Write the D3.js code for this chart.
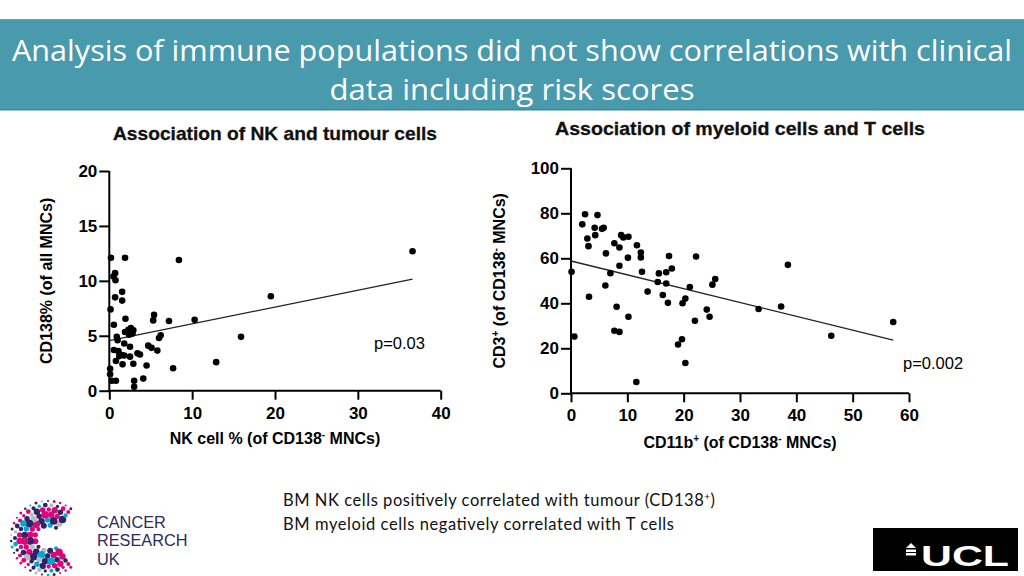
<!DOCTYPE html>
<html>
<head>
<meta charset="utf-8">
<script src="https://cdn.jsdelivr.net/npm/d3@7"></script>
<style>
  html, body { margin: 0; padding: 0; background: #ffffff; }
  svg { display: block; }
</style>
</head>
<body>
<svg id="chart" width="1024" height="576"></svg>
<script>
// ---------------- DATA ----------------
const slideTitleLines = [
  "Analysis of immune populations did not show correlations with clinical",
  "data including risk scores"
];

// Left panel: NK cell % (x) vs CD138% (y)
const nkTitle = "Association of NK and tumour cells";
const nkCellPct = [0.2, 1.9, 8.4, 36.6, 0.7, 0.5, 0.75, 1.55, 1.55, 0.7, 0.15, 19.5,
  5.4, 5.3, 7.2, 10.3, 0.55, 1.95, 1.9, 2.3, 2.6, 2.9, 2.8, 2.4,
  0.9, 1.0, 6.2, 6.0, 15.9, 1.8, 2.5, 0.55, 4.7, 5.1, 5.8, 1.1,
  1.5, 1.2, 1.8, 2.5, 3.4, 3.7, 0.8, 1.6, 2.9, 4.5, 7.7, 12.9,
  0.1, 0.1, 4.1, 3.0, 3.0, 0.3, 0.8];
const cd138Pct = [12.1, 12.1, 11.9, 12.7, 10.7, 10.4, 10.05, 9.0, 8.2, 8.5, 7.4, 8.6,
  6.9, 6.4, 6.35, 6.45, 6.0, 6.55, 5.35, 5.55, 5.7, 5.5, 5.2, 5.1,
  4.9, 4.6, 5.05, 4.8, 4.9, 4.3, 4.0, 3.7, 4.1, 3.9, 3.65, 3.6,
  3.25, 3.15, 3.2, 3.1, 3.4, 3.3, 2.7, 2.4, 2.45, 2.3, 2.05, 2.6,
  2.0, 1.5, 1.1, 0.9, 0.35, 0.9, 0.9];
const nkXTicks = [0, 10, 20, 30, 40];
const nkYTicks = [0, 5, 10, 15, 20];
const nkFit = { x0: 0, x1: 36.6, intercept: 4.55, slope: 0.153 };
const nkP = "p=0.03";

// Right panel: CD11b+ (x) vs CD3+ (y)
const myTitle = "Association of myeloid cells and T cells";
const cd11bPct = [0.1, 0.6, 2.5, 4.7, 2.0, 4.2, 5.5, 5.8, 2.9, 4.3, 3.1, 8.9, 9.3, 10.2,
  7.7, 8.6, 11.7, 6.2, 12.4, 12.4, 10.1, 17.4, 8.6, 7.0, 12.6, 15.6, 16.9, 17.9,
  15.4, 16.9, 6.1, 13.6, 3.2, 16.3, 17.2, 8.1, 10.2, 7.7, 8.6, 11.6, 19.8, 20.3,
  19.0, 19.7, 20.3, 21.1, 22.2, 22.0, 24.1, 24.6, 25.1, 25.6, 33.3, 37.3, 38.5,
  46.2, 57.2];
const cd3Pct = [54.0, 25.2, 79.6, 79.2, 75.1, 73.6, 73.1, 73.6, 68.8, 70.3, 65.4, 70.3, 69.3, 69.6,
  66.7, 64.8, 65.8, 62.2, 62.6, 60.4, 60.3, 61.0, 56.7, 53.4, 54.0, 53.3, 53.8, 55.5,
  49.5, 48.8, 47.9, 45.2, 42.9, 43.7, 40.2, 38.5, 34.0, 27.8, 27.3, 5.0, 40.0, 42.1,
  21.7, 24.0, 13.5, 47.2, 60.8, 32.2, 37.2, 34.0, 48.3, 50.8, 37.5, 38.6, 57.1,
  25.6, 31.7];
const myXTicks = [0, 10, 20, 30, 40, 50, 60];
const myYTicks = [0, 20, 40, 60, 80, 100];
const myFit = { x0: 0, x1: 57.2, intercept: 58.8, slope: -0.614 };
const myP = "p=0.002";

const bullets = [
  { text: "BM NK cells positively correlated with tumour (CD138", sup: "+", tail: ")" },
  { text: "BM myeloid cells negatively correlated with T cells", sup: "", tail: "" }
];
const cruLines = ["CANCER", "RESEARCH", "UK"];

// ---------------- DRAW ----------------
const svg = d3.select("#chart");
const FONT = "'Liberation Sans', Arial, sans-serif";

// Header band
svg.append("rect").attr("x", 0).attr("y", 19).attr("width", 1024).attr("height", 91)
  .attr("fill", "#4a9aae");
svg.append("rect").attr("x", 0).attr("y", 109).attr("width", 1024).attr("height", 1.5)
  .attr("fill", "#3f8799");
svg.append("rect").attr("x", 0).attr("y", 19).attr("width", 1024).attr("height", 1)
  .attr("fill", "#5aa5b7");

const titleG = svg.append("g").attr("font-family", "'Open Sans', 'Noto Sans', sans-serif")
  .attr("fill", "#ffffff").attr("font-size", 29);
titleG.append("text").attr("x", 512).attr("y", 61).attr("text-anchor", "middle")
  .attr("textLength", 1000).attr("lengthAdjust", "spacingAndGlyphs")
  .text(slideTitleLines[0]);
titleG.append("text").attr("x", 512).attr("y", 100).attr("text-anchor", "middle")
  .attr("textLength", 365).attr("lengthAdjust", "spacingAndGlyphs")
  .text(slideTitleLines[1]);

function panel(cfg) {
  const g = svg.append("g").attr("font-family", FONT);
  const x = d3.scaleLinear().domain(cfg.xDomain).range([cfg.left, cfg.right]);
  const y = d3.scaleLinear().domain(cfg.yDomain).range([cfg.bottom, cfg.top]);

  // title
  g.append("text").attr("x", cfg.titleX).attr("y", cfg.titleY)
    .attr("font-size", 18.5).attr("font-weight", "bold").attr("fill", "#111")
    .attr("stroke", "#111").attr("stroke-width", 0.3)
    .attr("textLength", cfg.titleW).attr("lengthAdjust", "spacingAndGlyphs")
    .text(cfg.title);

  const xAxis = d3.axisBottom(x).tickValues(cfg.xTicks).tickSize(9).tickSizeOuter(0)
    .tickPadding(7).tickFormat(d3.format("d"));
  const yAxis = d3.axisLeft(y).tickValues(cfg.yTicks).tickSize(10).tickSizeOuter(0)
    .tickPadding(2).tickFormat(d3.format("d"));

  const gx = g.append("g").attr("transform", `translate(0,${cfg.bottom})`).call(xAxis);
  const gy = g.append("g").attr("transform", `translate(${cfg.left},0)`).call(yAxis);
  [gx, gy].forEach(a => {
    a.selectAll("path.domain").attr("stroke", "#000").attr("stroke-width", 2);
    a.selectAll(".tick line").attr("stroke", "#000").attr("stroke-width", 2);
    a.selectAll(".tick text").attr("font-size", 17).attr("font-weight", "bold")
      .attr("fill", "#000").attr("font-family", FONT);
  });
  // extend domains to meet at origin
  gx.select("path.domain").attr("d", `M${cfg.left - 1},0H${cfg.right}`);
  gy.select("path.domain").attr("d", `M0,${cfg.bottom + 1}V${cfg.top}`);

  // regression line
  g.append("line")
    .attr("x1", x(cfg.fit.x0)).attr("y1", y(cfg.fit.intercept + cfg.fit.slope * cfg.fit.x0))
    .attr("x2", x(cfg.fit.x1)).attr("y2", y(cfg.fit.intercept + cfg.fit.slope * cfg.fit.x1))
    .attr("stroke", "#222").attr("stroke-width", 1.3);

  // points
  g.append("g").selectAll("circle").data(cfg.xs.map((v, i) => [v, cfg.ys[i]]))
    .join("circle")
    .attr("cx", d => x(d[0])).attr("cy", d => y(d[1])).attr("r", 3.3).attr("fill", "#000");

  // p-value
  g.append("text").attr("x", cfg.pX).attr("y", cfg.pY).attr("font-size", 16.5)
    .attr("fill", "#000").text(cfg.p);

  // x label
  const xl = g.append("text").attr("x", (cfg.left + cfg.right) / 2).attr("y", cfg.xLabelY)
    .attr("text-anchor", "middle").attr("font-size", 16).attr("font-weight", "bold").attr("fill", "#000");
  cfg.xLabel.forEach(p => {
    const t = xl.append("tspan").text(p.t);
    if (p.sup) t.attr("font-size", 10).attr("dy", -6);
    if (p.after) t.attr("dy", 6);
  });
  // y label
  const yl = g.append("text")
    .attr("transform", `translate(${cfg.yLabelX},${(cfg.top + cfg.bottom) / 2}) rotate(-90)`)
    .attr("text-anchor", "middle").attr("font-size", 16).attr("font-weight", "bold").attr("fill", "#000");
  cfg.yLabel.forEach(p => {
    const t = yl.append("tspan").text(p.t);
    if (p.sup) t.attr("font-size", 10).attr("dy", -6);
    if (p.after) t.attr("dy", 6);
  });
}

panel({
  title: nkTitle, titleX: 113, titleY: 140, titleW: 324,
  xDomain: [0, 40], yDomain: [0, 20],
  left: 109.3, right: 440.7, bottom: 390.7, top: 171,
  xTicks: nkXTicks, yTicks: nkYTicks,
  xs: nkCellPct, ys: cd138Pct, fit: nkFit,
  p: nkP, pX: 374, pY: 349,
  xLabelY: 443.5,
  xLabel: [{ t: "NK cell % (of CD138" }, { t: "-", sup: true }, { t: " MNCs)", after: true }],
  yLabelX: 52,
  yLabel: [{ t: "CD138% (of all MNCs)" }]
});

panel({
  title: myTitle, titleX: 555, titleY: 135, titleW: 370,
  xDomain: [0, 60], yDomain: [0, 100],
  left: 571, right: 909, bottom: 393.3, top: 168.3,
  xTicks: myXTicks, yTicks: myYTicks,
  xs: cd11bPct, ys: cd3Pct, fit: myFit,
  p: myP, pX: 903, pY: 369,
  xLabelY: 447.5,
  xLabel: [{ t: "CD11b" }, { t: "+", sup: true }, { t: " (of CD138", after: true },
           { t: "-", sup: true }, { t: " MNCs)", after: true }],
  yLabelX: 505,
  yLabel: [{ t: "CD3" }, { t: "+", sup: true }, { t: " (of CD138", after: true },
           { t: "-", sup: true }, { t: " MNCs)", after: true }]
});

// Bullet text
const bulletW = [432, 391];
const bt = svg.append("g").attr("font-family", "Lato, 'Open Sans', sans-serif")
  .attr("font-size", 16.5).attr("fill", "#111");
bullets.forEach((b, i) => {
  const t = bt.append("text").attr("x", 283).attr("y", 505.5 + i * 24)
    .attr("textLength", bulletW[i]).attr("lengthAdjust", "spacing");
  t.append("tspan").text(b.text);
  if (b.sup) {
    t.append("tspan").attr("font-size", 10).attr("dy", -6).text(b.sup);
    t.append("tspan").attr("dy", 6).text(b.tail);
  }
});

// Cancer Research UK logo (decorative dotted C)
const logo = svg.append("g");
const cruColors = ["#2e2564", "#e4007c", "#2e2564", "#b9b9c2", "#e4007c", "#00a8d6", "#2e2564", "#c8107a"];
const cx0 = 48, cy0 = 538;
let k = 0;
[[13, 3.0], [18, 3.8], [23.5, 3.8], [28.5, 3.2], [33, 2.4], [37, 1.5]].forEach(([r, s], ri) => {
  const n = Math.round(r * 0.72);
  for (let j = 0; j <= n; j++) {
    const a = (52 + (256 * j) / n) * Math.PI / 180;
    logo.append("circle")
      .attr("cx", cx0 + r * Math.cos(a)).attr("cy", cy0 - r * Math.sin(a))
      .attr("r", s * (0.7 + 0.3 * ((j + ri) % 3) / 2))
      .attr("fill", cruColors[(k++ * 5 + ri) % cruColors.length]);
  }
});
const cruT = svg.append("g").attr("font-family", "'Liberation Sans', Arial, sans-serif")
  .attr("font-size", 16.3).attr("fill", "#2e2a5e");
cruLines.forEach((l, i) => {
  cruT.append("text").attr("x", 97).attr("y", 527.5 + i * 18.6).text(l);
});

// UCL logo
svg.append("rect").attr("x", 873).attr("y", 528).attr("width", 145).attr("height", 43).attr("fill", "#000");
const portico = svg.append("g").attr("fill", "#fff");
portico.append("path").attr("d", "M906,548 L911,543 L916,548 Z");
portico.append("rect").attr("x", 906).attr("y", 549.5).attr("width", 10).attr("height", 2.5);
portico.append("rect").attr("x", 906).attr("y", 553).attr("width", 10).attr("height", 2.5);
svg.append("text").attr("x", 921).attr("y", 566).attr("font-family", FONT)
  .attr("font-weight", "bold").attr("font-size", 29).attr("fill", "#fff")
  .attr("textLength", 88).attr("lengthAdjust", "spacingAndGlyphs").text("UCL");
</script>
</body>
</html>
